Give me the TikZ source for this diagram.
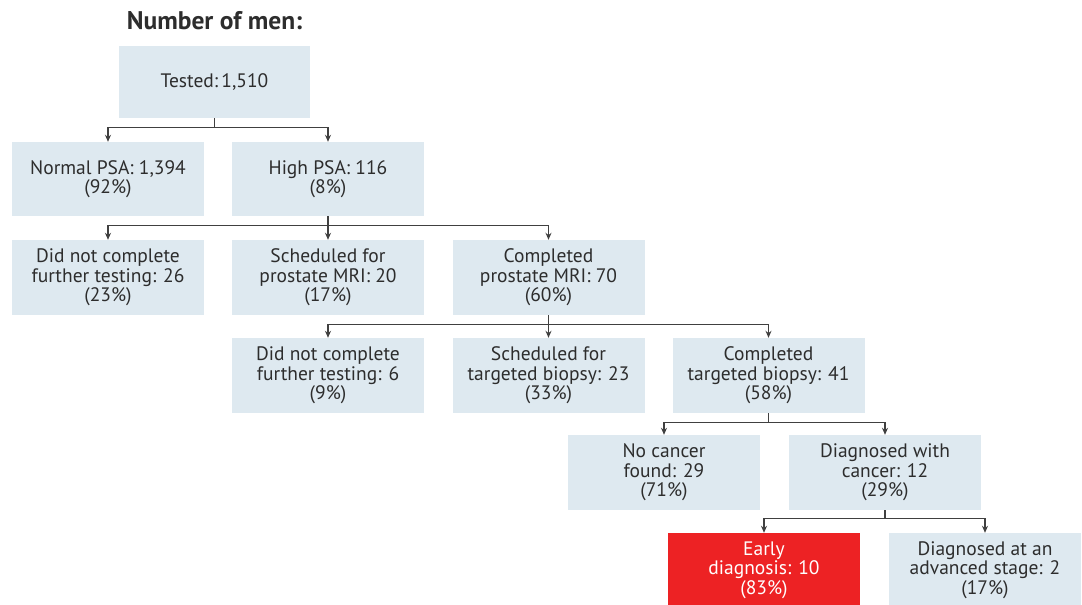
\documentclass[tikz,border=0pt]{standalone}
\usepackage{fontspec}
\setmainfont{PT Sans}
\usetikzlibrary{arrows.meta}
\definecolor{boxfill}{RGB}{222,233,240}
\definecolor{redfill}{RGB}{237,34,36}
\definecolor{txt}{RGB}{45,45,45}
\definecolor{linec}{RGB}{64,64,64}
\tikzset{
  stepbox/.style={fill=boxfill, draw=none, minimum width=192pt, minimum height=74pt, align=center, text=txt, inner sep=0pt, font=\fontsize{19.5}{19.5}\selectfont},
  redbox/.style={stepbox, fill=redfill, text=white},
  arr/.style={draw=linec, line width=1.3pt, -{Stealth[length=7pt,width=6pt]}},
}
\begin{document}
\begin{tikzpicture}[x=1pt,y=-1pt]
\useasboundingbox (0,0) rectangle (1082,605);
\node[text=txt, font=\fontsize{25.5}{28}\selectfont\bfseries] (title) at (214.5,21) {Number of men:};
\node[stepbox, minimum width=191pt, minimum height=72pt] (tested) at (214.5,82) {Tested:\,1,510};
\node[stepbox] (normal) at (108,179) {Normal PSA: 1,394\\(92\%)};
\node[stepbox] (high) at (328,179) {High PSA: 116\\(8\%)};
\node[stepbox, minimum height=75pt] (dnc1) at (108,277.5) {Did not complete\\further testing: 26\\(23\%)};
\node[stepbox, minimum height=75pt] (smri) at (328,277.5) {Scheduled for\\prostate MRI: 20\\(17\%)};
\node[stepbox, minimum height=75pt] (cmri) at (548.5,277.5) {Completed\\prostate MRI: 70\\(60\%)};
\node[stepbox, minimum height=75pt] (dnc2) at (328,375.5) {Did not complete\\further testing: 6\\(9\%)};
\node[stepbox, minimum height=75pt] (sbio) at (548.5,375.5) {Scheduled for\\targeted biopsy: 23\\(33\%)};
\node[stepbox, minimum height=75pt] (cbio) at (768.5,375.5) {Completed\\targeted biopsy: 41\\(58\%)};
\node[stepbox, minimum height=75pt] (nocan) at (664,472.5) {No cancer\\found: 29\\(71\%)};
\node[stepbox, minimum height=75pt] (diag) at (885,472.5) {Diagnosed with\\cancer: 12\\(29\%)};
\node[redbox, minimum height=74pt] (early) at (764,570) {Early\\diagnosis: 10\\(83\%)};
\node[stepbox, minimum height=74pt] (adv) at (985,570) {Diagnosed at an\\advanced stage: 2\\(17\%)};
\foreach \p/\c in {tested/normal, tested/high}
  \draw[arr] (\p.south) -- ++(0,9) -| (\c.north);
\foreach \p/\c in {high/dnc1, high/smri, high/cmri}
  \draw[arr] (\p.south) -- ++(0,9) -| (\c.north);
\foreach \p/\c in {cmri/dnc2, cmri/sbio, cmri/cbio}
  \draw[arr] (\p.south) -- ++(0,9) -| (\c.north);
\foreach \p/\c in {cbio/nocan, cbio/diag}
  \draw[arr] (\p.south) -- ++(0,9) -| (\c.north);
\foreach \p/\c in {diag/early, diag/adv}
  \draw[arr] (\p.south) -- ++(0,8) -| (\c.north);
\end{tikzpicture}
\end{document}
